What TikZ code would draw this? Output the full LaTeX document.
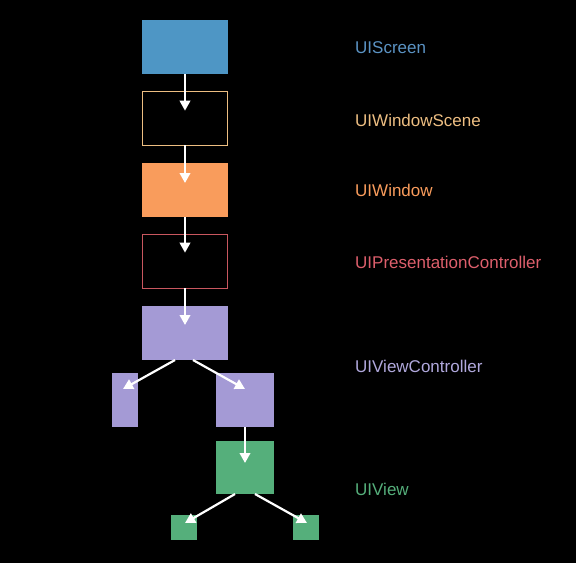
\documentclass[tikz,border=0pt]{standalone}
\usepackage{fontspec}
\setmainfont{Liberation Sans}
\usetikzlibrary{arrows.meta}
\definecolor{cblue}{HTML}{4E96C5}
\definecolor{cblueT}{HTML}{5B93C4}
\definecolor{cscene}{HTML}{EDBE82}
\definecolor{cwin}{HTML}{F99C5C}
\definecolor{cpres}{HTML}{C9575F}
\definecolor{cpresT}{HTML}{DD5F6C}
\definecolor{cvc}{HTML}{A49AD5}
\definecolor{cvcT}{HTML}{B0A8DC}
\definecolor{cview}{HTML}{55AF7B}
\tikzset{
  box/.style={draw=none,inner sep=0pt,outer sep=0pt,minimum width=86pt,minimum height=54pt},
  outl/.style={box,line width=1.3pt},
  lbl/.style={anchor=west,inner sep=0pt,font=\fontsize{17}{19}\selectfont},
  arr/.style={draw=white,line width=2.2pt,-{Triangle[width=10.5pt,length=10pt]}}
}
\begin{document}
\begin{tikzpicture}[x=1pt,y=-1pt]
\fill[black] (0,0) rectangle (576,563);
\useasboundingbox (0,0) rectangle (576,563);
\node[box,fill=cblue] (screen) at (185,47) {};
\node[outl,draw=cscene,minimum width=84.7pt,minimum height=53.7pt] (scene) at (185,118.5) {};
\node[box,fill=cwin] (win) at (185,190) {};
\node[outl,draw=cpres,minimum width=84.7pt,minimum height=53.7pt] (pres) at (185,261.5) {};
\node[box,fill=cvc] (vc) at (185,333) {};
\node[box,fill=cvc,minimum width=26pt] (vcl) at (125,400) {};
\node[box,fill=cvc,minimum width=58pt] (vcr) at (245,400) {};
\node[box,fill=cview,minimum width=58pt,minimum height=53pt] (view) at (245,467.5) {};
\node[box,fill=cview,minimum width=26pt,minimum height=25pt] (vl) at (184,527.5) {};
\node[box,fill=cview,minimum width=26pt,minimum height=25pt] (vr) at (306,527.5) {};
\draw[arr] (screen.south) -- ([yshift=-19pt]scene.north);
\draw[arr] (scene.south) -- ([yshift=-20pt]win.north);
\draw[arr] (win.south) -- ([yshift=-18pt]pres.north);
\draw[arr] (pres.south) -- ([yshift=-19pt]vc.north);
\draw[arr] ([xshift=-10pt]vc.south) -- ([xshift=-2pt,yshift=-16pt]vcl.north);
\draw[arr] ([xshift=8pt]vc.south) -- ([yshift=-16pt]vcr.north);
\draw[arr] (vcr.south) -- ([yshift=-22pt]view.north);
\draw[arr] ([xshift=-10pt]view.south) -- ([xshift=1pt,yshift=-8pt]vl.north);
\draw[arr] ([xshift=10pt]view.south) -- ([xshift=1pt,yshift=-8pt]vr.north);
\node[lbl,text=cblueT] (t1) at (355,48) {UIScreen};
\node[lbl,text=cscene] (t2) at (355,120) {UIWindowScene};
\node[lbl,text=cwin] (t3) at (355,190) {UIWindow};
\node[lbl,text=cpresT] (t4) at (355,262) {UIPresentationController};
\node[lbl,text=cvcT] (t5) at (355,366) {UIViewController};
\node[lbl,text=cview] (t6) at (355,489) {UIView};
\end{tikzpicture}
\end{document}
